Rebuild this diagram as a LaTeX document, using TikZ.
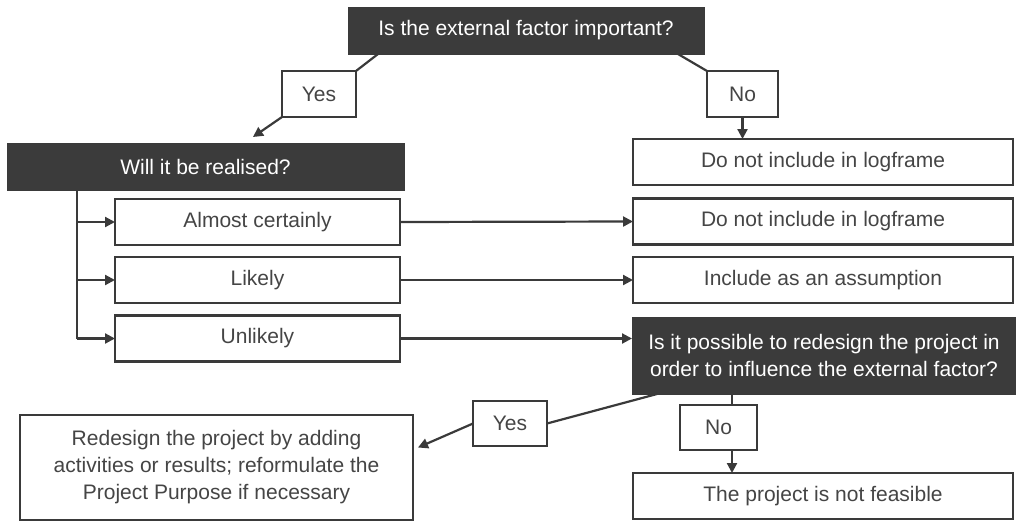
\documentclass[tikz,border=0pt]{standalone}
\usepackage{fontspec}
\setmainfont{Liberation Sans}
\usetikzlibrary{arrows.meta,calc}
\definecolor{ink}{HTML}{3A3A3A}
\definecolor{darkfill}{HTML}{3B3B3B}
\definecolor{txt}{HTML}{454545}

\begin{document}
\begin{tikzpicture}[x=1pt,y=-1pt,
  every node/.style={font=\fontsize{21}{27}\selectfont, inner sep=0pt, outer sep=0pt},
  lightbox/.style={draw=ink, line width=2.4pt, fill=white, text=txt, align=center},
  darkbox/.style={draw=ink, line width=1pt, fill=darkfill, text=white, align=center},
  conn/.style={draw=ink, line width=2.2pt},
  arr/.style={conn, -{Triangle[length=10pt,width=10pt]}}]
\useasboundingbox (0,0) rectangle (1016,525);

% questions
\node[darkbox, minimum width=356pt, minimum height=47pt] (q1) at (526,30.5) {Is the external factor important?};
\node[darkbox, minimum width=397pt, minimum height=47pt] (q2) at (205.5,166.5) {Will it be realised?};
\node[darkbox, minimum width=384pt, minimum height=77pt] (q3) at (824,355.5)
  {Is it possible to redesign the project in\\order to influence the external factor?};

% answer labels
\node[lightbox, minimum width=74pt, minimum height=46pt] (yes1) at (319,94) {Yes};
\node[lightbox, minimum width=71pt, minimum height=46pt] (no1) at (742.5,94) {No};
\node[lightbox, minimum width=74pt, minimum height=45pt] (yes2) at (510,423.5) {Yes};
\node[lightbox, minimum width=77pt, minimum height=45pt] (no2) at (718.5,427.5) {No};

% likelihood options
\node[lightbox, minimum width=285pt, minimum height=46pt] (o1) at (257.5,222) {Almost certainly};
\node[lightbox, minimum width=285pt, minimum height=46pt] (o2) at (257.5,280) {Likely};
\node[lightbox, minimum width=285pt, minimum height=46pt] (o3) at (257.5,338.5) {Unlikely};

% outcomes
\node[lightbox, minimum width=380pt, minimum height=46pt] (r0) at (823,162) {Do not include in logframe};
\node[lightbox, minimum width=380pt, minimum height=46pt] (r1) at (823,221.5) {Do not include in logframe};
\node[lightbox, minimum width=380pt, minimum height=46pt] (r2) at (823,280) {Include as an assumption};
\node[lightbox, minimum width=393pt, minimum height=105pt] (redesign) at (216.5,467.5)
  {Redesign the project by adding\\activities or results; reformulate the\\Project Purpose if necessary};
\node[lightbox, minimum width=380pt, minimum height=46pt] (feasible) at (823,496) {The project is not feasible};

% first question
\coordinate (yesTip) at (253,137);
\draw[conn] ($(q1.south west)+(30,0)$) -- (yes1.north east);
\draw[arr] (yes1.south west) -- (yesTip);
\draw[conn] ($(q1.south east)+(-26,0)$) -- (no1.north west);
\draw[arr] (no1.south) -- (no1.south |- r0.north);

% second question: trunk and branches
\coordinate (trunkTop) at ($(q2.south west)+(70,0)$);
\draw[conn] (trunkTop) -- (trunkTop |- o3.west);
\foreach \o in {o1,o2,o3}
  \draw[arr] (trunkTop |- \o.west) -- (\o.west);
\draw[arr] (o1.east) -- (r1.west);
\draw[arr] (o2.east) -- (r2.west);
\draw[arr] (o3.east) -- (o3.east -| q3.west);

% third question
\coordinate (redesignTip) at ($(redesign.east)+(5,-20)$);
\draw[conn] ($(q3.south west)+(25,0)$) -- (yes2.east);
\draw[arr] (yes2.west) -- (redesignTip);
\coordinate (noX) at (732,0);
\draw[conn] (q3.south -| noX) -- (no2.north -| noX);
\draw[arr] (no2.south -| noX) -- (feasible.north -| noX);
\end{tikzpicture}
\end{document}
